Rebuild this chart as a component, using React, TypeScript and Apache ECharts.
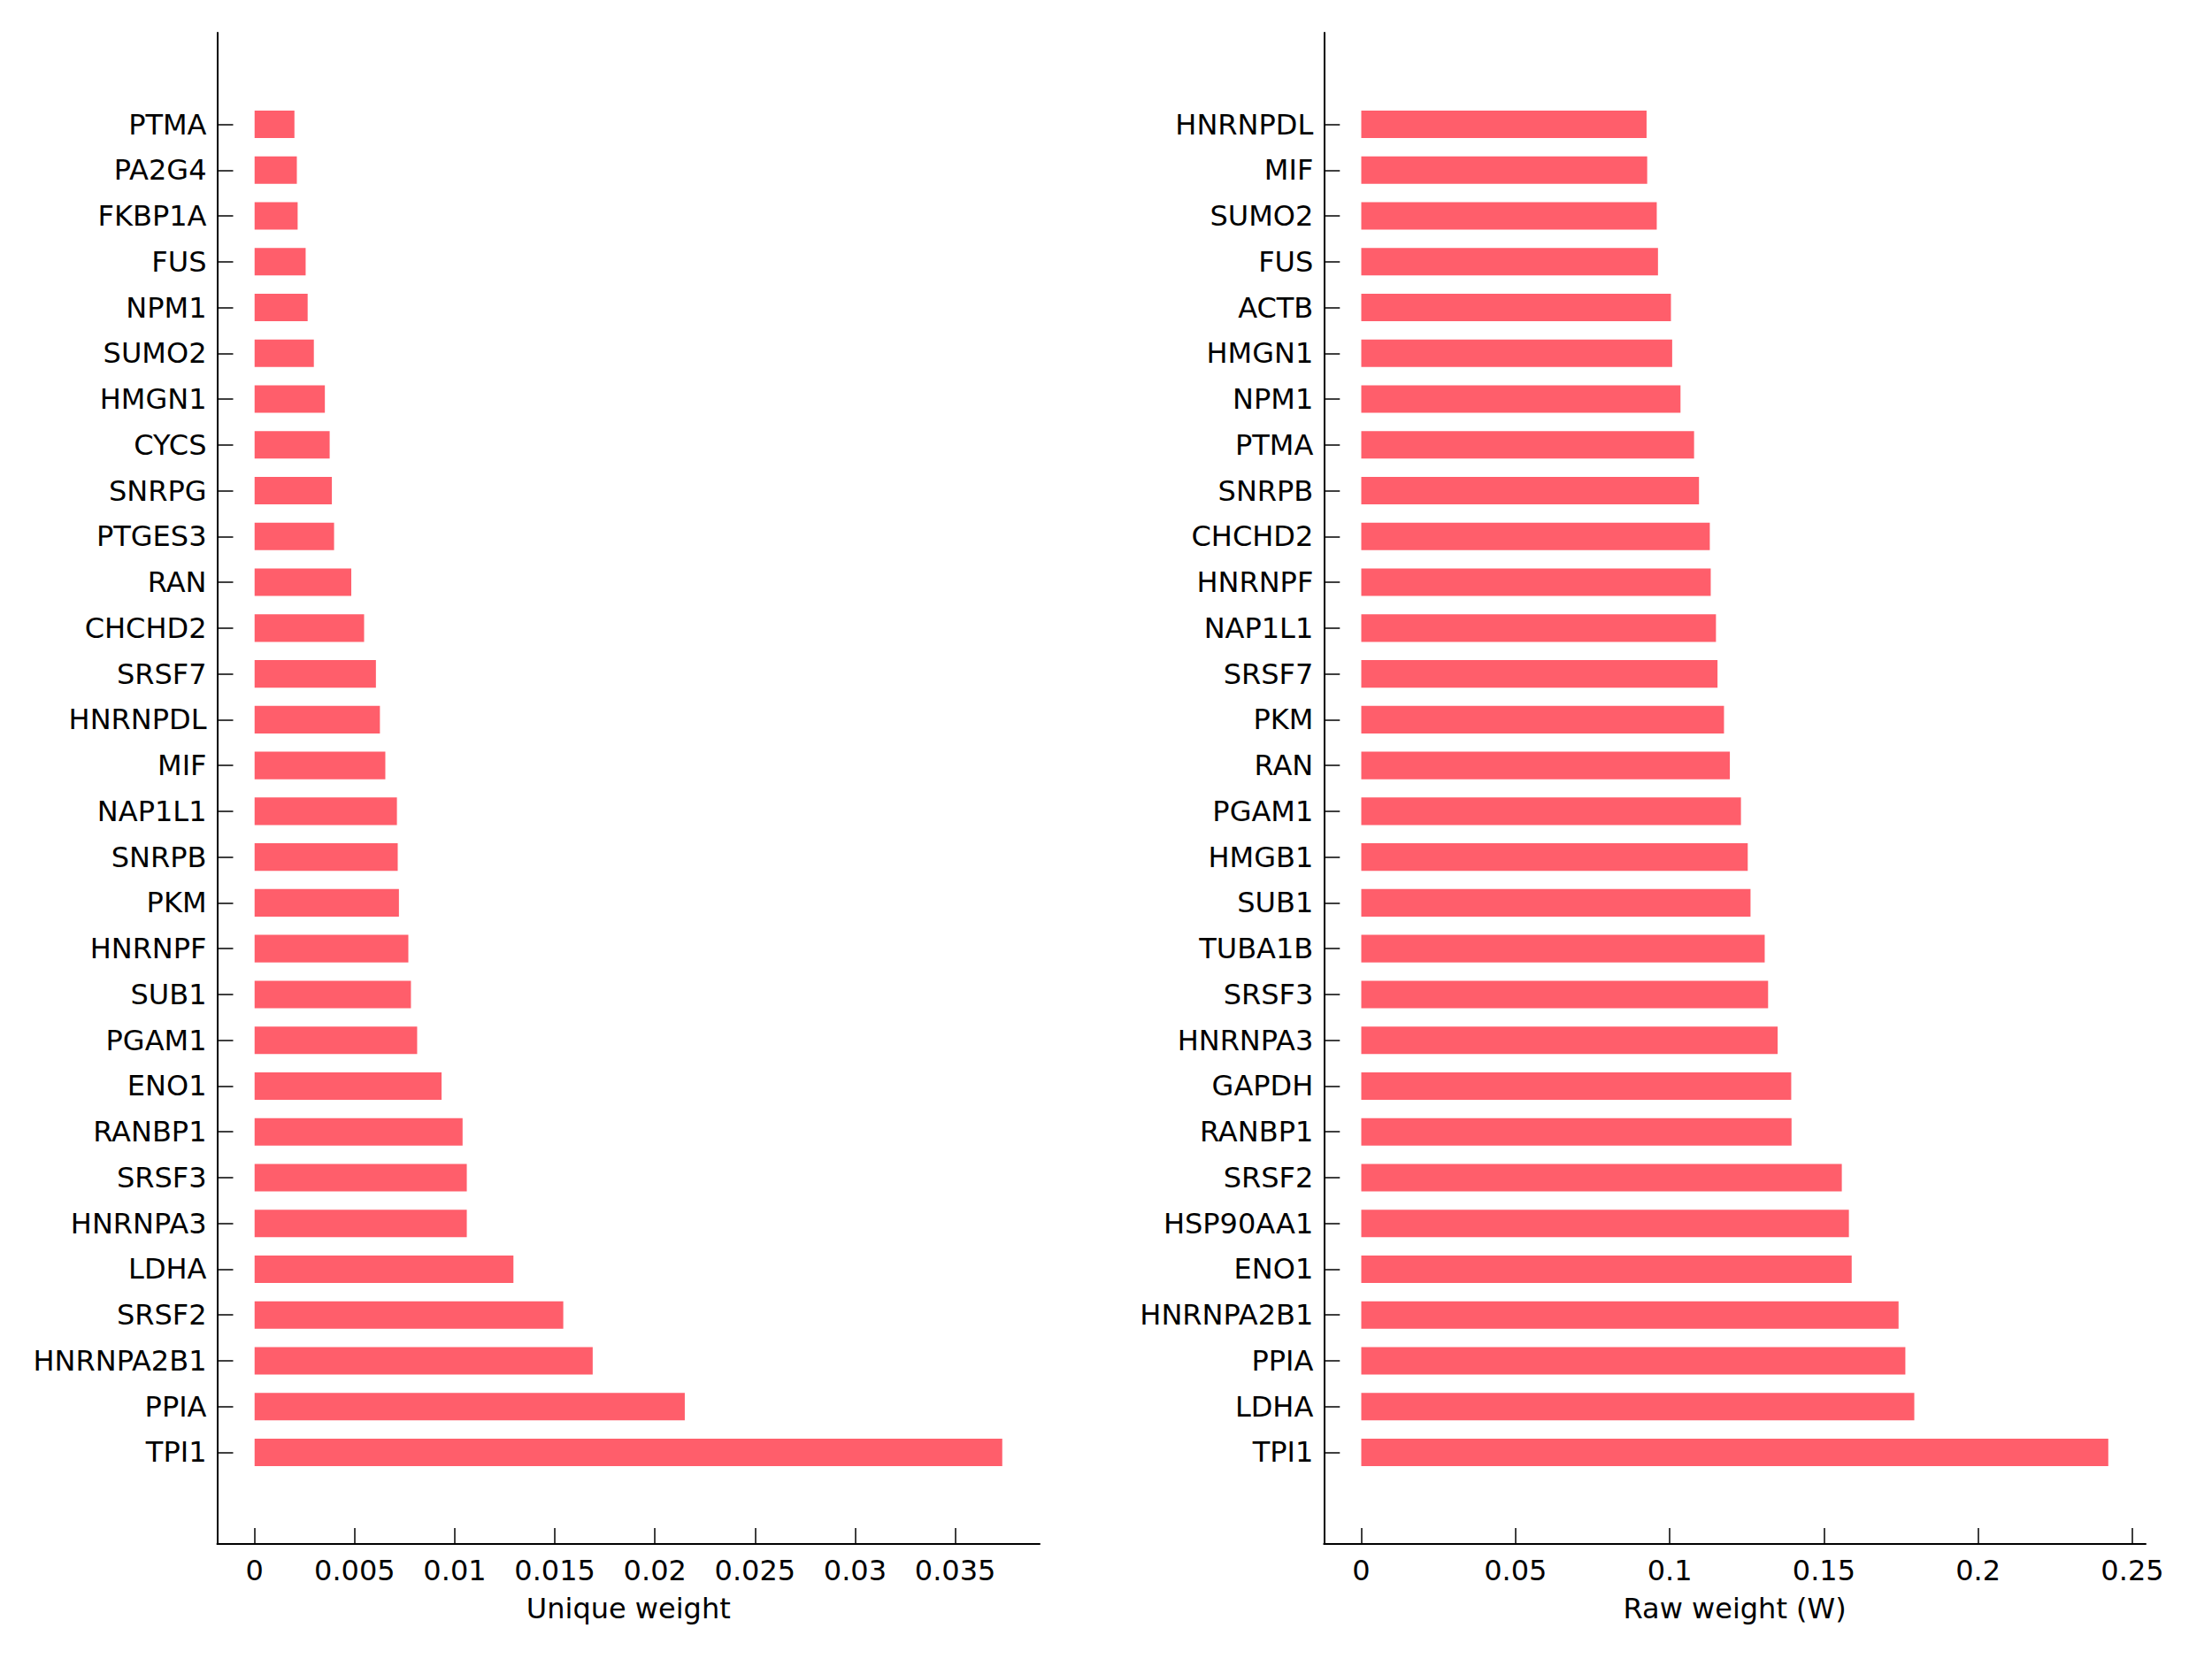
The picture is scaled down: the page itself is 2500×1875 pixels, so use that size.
import React, { useEffect, useRef } from "react";
import * as echarts from "echarts";

// Left panel (top to bottom)
const uniqueGenes = [
  "PTMA", "PA2G4", "FKBP1A", "FUS", "NPM1", "SUMO2", "HMGN1", "CYCS", "SNRPG", "PTGES3",
  "RAN", "CHCHD2", "SRSF7", "HNRNPDL", "MIF", "NAP1L1", "SNRPB", "PKM", "HNRNPF", "SUB1",
  "PGAM1", "ENO1", "RANBP1", "SRSF3", "HNRNPA3", "LDHA", "SRSF2", "HNRNPA2B1", "PPIA", "TPI1",
];
const uniqueWeights = [
  0.00199, 0.00211, 0.00215, 0.00255, 0.00265, 0.00296, 0.00351, 0.00375, 0.00386, 0.00397,
  0.00483, 0.00547, 0.00606, 0.00626, 0.00653, 0.00711, 0.00715, 0.00721, 0.00768, 0.00781,
  0.00812, 0.00934, 0.01039, 0.0106, 0.0106, 0.01293, 0.01542, 0.01689, 0.02149, 0.03735,
];
const uniqueTicks = [0, 0.005, 0.01, 0.015, 0.02, 0.025, 0.03, 0.035];

// Right panel (top to bottom)
const rawGenes = [
  "HNRNPDL", "MIF", "SUMO2", "FUS", "ACTB", "HMGN1", "NPM1", "PTMA", "SNRPB", "CHCHD2",
  "HNRNPF", "NAP1L1", "SRSF7", "PKM", "RAN", "PGAM1", "HMGB1", "SUB1", "TUBA1B", "SRSF3",
  "HNRNPA3", "GAPDH", "RANBP1", "SRSF2", "HSP90AA1", "ENO1", "HNRNPA2B1", "PPIA", "LDHA", "TPI1",
];
const rawWeights = [
  0.0925, 0.0927, 0.0958, 0.0962, 0.1004, 0.1008, 0.1035, 0.1079, 0.1095, 0.113,
  0.1133, 0.115, 0.1155, 0.1176, 0.1195, 0.1231, 0.1253, 0.1262, 0.1308, 0.1319,
  0.135, 0.1394, 0.1395, 0.1558, 0.1581, 0.159, 0.1742, 0.1764, 0.1793, 0.2422,
];
const rawTicks = [0, 0.05, 0.1, 0.15, 0.2, 0.25];

const BAR_COLOR = "#ff5e6b";
const FONT = "DejaVu Sans";
const FS = 32;

export default function App() {
  const ref = useRef<HTMLDivElement>(null);

  useEffect(() => {
    if (!ref.current) return;
    const chart = echarts.init(ref.current, undefined, { renderer: "svg" });

    const catIdx = uniqueGenes.map((_, i) => i + 1);

    const makeX = (gridIndex: number, maxV: number, ticks: number[], name: string) => ({
      type: "value",
      gridIndex,
      min: -0.05 * maxV,
      max: 1.05 * maxV,
      name,
      nameLocation: "middle",
      nameGap: 57,
      nameTextStyle: { color: "#000", fontFamily: FONT, fontSize: FS },
      axisLine: { show: true, onZero: false, lineStyle: { color: "#000", width: 2 } },
      axisTick: { show: true, inside: true, length: 18, customValues: ticks, lineStyle: { color: "#000", width: 1.5 } },
      axisLabel: {
        show: true,
        customValues: ticks,
        margin: 14,
        color: "#000",
        fontFamily: FONT,
        fontSize: FS,
        formatter: (v: number) => String(v),
      },
      splitLine: { show: false },
    });

    const makeY = (gridIndex: number, cats: string[]) => ({
      type: "value",
      gridIndex,
      min: -1,
      max: 32,
      inverse: true,
      axisLine: { show: true, onZero: false, lineStyle: { color: "#000", width: 2 } },
      axisTick: { show: true, inside: true, length: 18, customValues: catIdx, lineStyle: { color: "#000", width: 1.5 } },
      axisLabel: {
        show: true,
        customValues: catIdx,
        margin: 12,
        color: "#000",
        fontFamily: FONT,
        fontSize: FS,
        formatter: (v: number) => cats[Math.round(v) - 1] ?? "",
      },
      splitLine: { show: false },
    });

    const renderBar = (params: any, api: any) => {
      const v = api.value(0);
      const idx = api.value(1);
      const s = api.coord([0, idx]);
      const e = api.coord([v, idx]);
      const h = api.size([0, 0.6])[1];
      return {
        type: "rect",
        shape: { x: s[0], y: s[1] - h / 2, width: e[0] - s[0], height: h },
        style: { fill: BAR_COLOR },
      };
    };

    chart.setOption({
      animation: false,
      backgroundColor: "#fff",
      grid: [
        { left: 245.5, top: 37, width: 929.5, height: 1708, containLabel: false },
        { left: 1496.3, top: 37, width: 928.7, height: 1708, containLabel: false },
      ],
      xAxis: [
        makeX(0, Math.max(...uniqueWeights), uniqueTicks, "Unique weight"),
        makeX(1, Math.max(...rawWeights), rawTicks, "Raw weight (W)"),
      ],
      yAxis: [makeY(0, uniqueGenes), makeY(1, rawGenes)],
      series: [
        {
          type: "custom",
          xAxisIndex: 0,
          yAxisIndex: 0,
          renderItem: renderBar,
          encode: { x: 0, y: 1 },
          data: uniqueWeights.map((v, i) => [v, i + 1]),
        },
        {
          type: "custom",
          xAxisIndex: 1,
          yAxisIndex: 1,
          renderItem: renderBar,
          encode: { x: 0, y: 1 },
          data: rawWeights.map((v, i) => [v, i + 1]),
        },
      ],
    });

    return () => chart.dispose();
  }, []);

  return (
    <div
      ref={ref}
      style={{ position: "fixed", left: 0, top: 0, width: 2500, height: 1875, background: "#fff" }}
    />
  );
}
